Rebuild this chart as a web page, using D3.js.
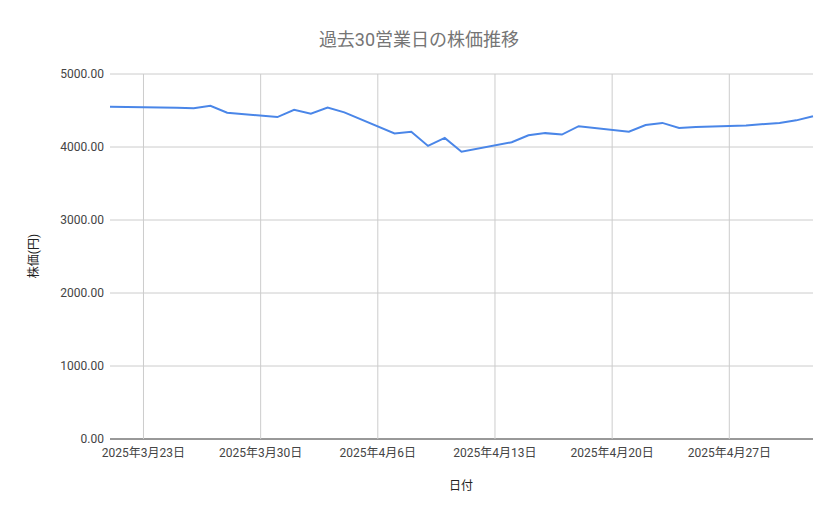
<!DOCTYPE html><html><head><meta charset="utf-8"><script src="https://d3js.org/d3.v7.min.js"></script>
<style>body{margin:0;background:#fff}text{font-family:Roboto,"Noto Sans CJK JP",sans-serif}</style></head><body><svg id="c" width="839" height="519"></svg><script>
const dates=["2025-03-21","2025-03-24","2025-03-25","2025-03-26","2025-03-27","2025-03-28","2025-03-31","2025-04-01","2025-04-02","2025-04-03","2025-04-04","2025-04-07","2025-04-08","2025-04-09","2025-04-10","2025-04-11","2025-04-14","2025-04-15","2025-04-16","2025-04-17","2025-04-18","2025-04-21","2025-04-22","2025-04-23","2025-04-24","2025-04-25","2025-04-28","2025-04-30","2025-05-01","2025-05-02"];
const prices=[4550,4540,4538,4530,4565,4470,4410,4510,4455,4540,4475,4185,4210,4015,4125,3935,4065,4160,4190,4170,4285,4210,4300,4330,4260,4275,4295,4330,4365,4420];
const yTicks=[0,1000,2000,3000,4000,5000];
const xTickDates=["2025-03-23","2025-03-30","2025-04-06","2025-04-13","2025-04-20","2025-04-27"];
const svg=d3.select("#c");
const L=110,R=813,T=74,B=439;
const p=d3.timeParse("%Y-%m-%d");
const x=d3.scaleTime().domain([p("2025-03-21"),p("2025-05-02")]).range([L,R]);
const y=d3.scaleLinear().domain([0,5000]).range([B,T]);
svg.append("g").selectAll("line").data(yTicks).join("line").attr("x1",L).attr("x2",R).attr("y1",d=>y(d)).attr("y2",d=>y(d)).attr("stroke",d=>d===0?"#333":"#ccc");
svg.append("g").selectAll("line").data(xTickDates).join("line").attr("x1",d=>x(p(d))).attr("x2",d=>x(p(d))).attr("y1",T).attr("y2",B).attr("stroke","#ccc");
svg.append("g").selectAll("text").data(yTicks).join("text").attr("x",L-6).attr("y",d=>y(d)+4).attr("text-anchor","end").attr("font-size",12).attr("fill","#444").text(d=>d.toFixed(2));
svg.append("g").selectAll("text").data(xTickDates).join("text").attr("x",d=>x(p(d))).attr("y",B+18).attr("text-anchor","middle").attr("font-size",12).attr("fill","#444").text(d=>{const t=p(d);return `${t.getFullYear()}年${t.getMonth()+1}月${t.getDate()}日`;});
svg.append("path").datum(dates.map((d,i)=>[p(d),prices[i]])).attr("fill","none").attr("stroke","#4a86e8").attr("stroke-width",2).attr("d",d3.line().x(d=>x(d[0])).y(d=>y(d[1])));
svg.append("text").attr("x",419).attr("y",46).attr("text-anchor","middle").attr("font-size",18).attr("fill","#757575").text("過去30営業日の株価推移");
svg.append("text").attr("x",461).attr("y",490).attr("text-anchor","middle").attr("font-size",12).attr("fill","#222").text("日付");
svg.append("text").attr("transform","translate(38,256) rotate(-90)").attr("text-anchor","middle").attr("font-size",12).attr("fill","#222").text("株価(円)");
</script></body></html>
